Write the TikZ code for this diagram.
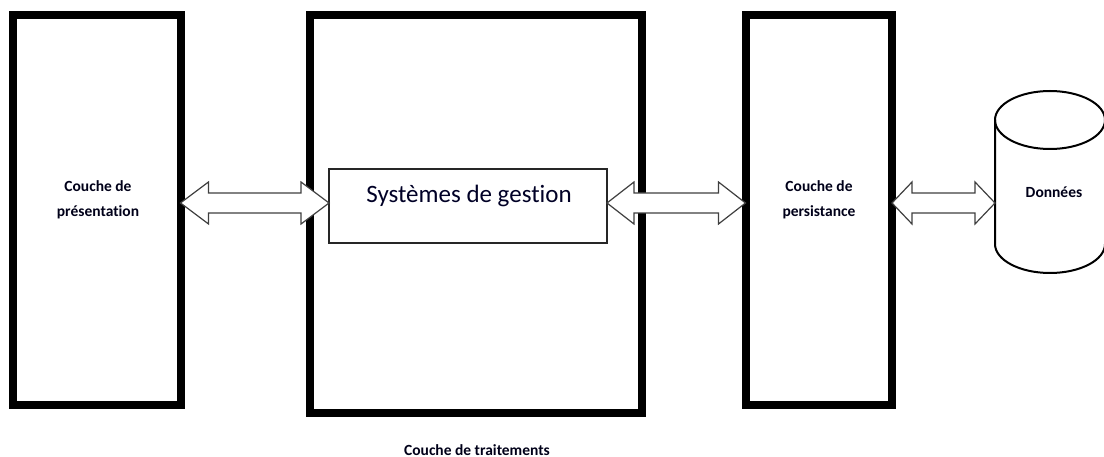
\documentclass[tikz,border=0pt]{standalone}
\usepackage{fontspec}
\setmainfont{Carlito}[Ligatures=NoCommon]
\usetikzlibrary{calc}
\tikzset{
  layer/.style={draw=black, line width=8pt, fill=none, inner sep=0pt, outer sep=0pt},
  inner/.style={draw=black!85, line width=1.3pt, inner sep=0pt, outer sep=0pt},
  lbl/.style={align=center, text=black!90!blue, font=\bfseries\fontsize{15.5}{25}\selectfont},
  hollow/.style={draw=black!75, line width=1.2pt, fill=white, line join=miter},
}
% double-headed hollow arrow between two points; #3 = head length
\newcommand\dblarrow[3]{%
  \draw[hollow] (#1) -- ($(#1)+(#3,-21)$) -- ($(#1)+(#3,-10)$) -- ($(#2)+(-#3,-10)$)
    -- ($(#2)+(-#3,-21)$) -- (#2) -- ($(#2)+(-#3,21)$) -- ($(#2)+(-#3,10)$)
    -- ($(#1)+(#3,10)$) -- ($(#1)+(#3,21)$) -- cycle;}
\begin{document}
\begin{tikzpicture}[x=1pt, y=-1pt]
\useasboundingbox (0,0) rectangle (1104,457);
\fill[white] (0,0) rectangle (1104,457);
% layer boxes
\node[layer, minimum width=167.5pt, minimum height=390pt] (b1) at (96.75,210) {};
\node[layer, minimum width=332pt, minimum height=397.5pt] (b2) at (476,213.75) {};
\node[layer, minimum width=146.5pt, minimum height=390pt] (b3) at (818.75,210) {};
\node[inner, minimum width=278pt, minimum height=74pt] (sys) at (468,206) {};
% cylinder
\draw[line width=2pt] (995,120) -- (995,244)
  arc[start angle=180, end angle=360, x radius=55pt, y radius=29pt] -- (1105,120);
\draw[line width=2pt] (1050,120) ellipse [x radius=55pt, y radius=29pt];
\coordinate (dbw) at (995,203);
% texts
\node[lbl] (t1) at (98,200) {Couche de\\présentation};
\node[lbl] (t3) at (819,200) {Couche de\\persistance};
\node[lbl] (t4) at (1054,192) {Données};
\node[lbl, inner sep=0pt, anchor=base] (t2) at (477,455) {Couche de traitements};
\node[text=black!85!blue, font=\fontsize{25}{30}\selectfont] (tsys) at (469,196) {Systèmes de gestion};
% arrows
\coordinate (a1l) at (b1.east |- 0,203);
\coordinate (a1r) at (sys.west |- 0,203);
\coordinate (a2l) at (sys.east |- 0,203);
\coordinate (a2r) at (b3.west |- 0,203);
\coordinate (a3l) at (b3.east |- 0,203);
\dblarrow{a1l}{a1r}{28}
\dblarrow{a2l}{a2r}{27}
\dblarrow{a3l}{dbw}{20}
\end{tikzpicture}
\end{document}
